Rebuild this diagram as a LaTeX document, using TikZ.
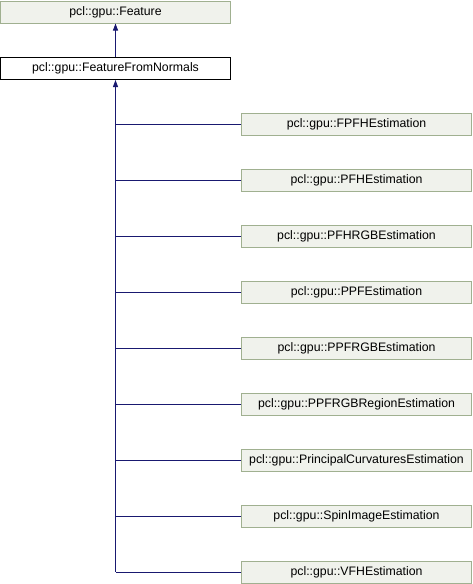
\documentclass[tikz,border=0pt]{standalone}
\usepackage{fontspec}
\setmainfont{Liberation Sans}
\usetikzlibrary{arrows.meta}
\definecolor{edgecol}{HTML}{191970}
\definecolor{boxfill}{HTML}{F0F2EC}
\definecolor{boxdraw}{HTML}{A0B090}
\tikzset{
  cls/.style={draw=boxdraw, fill=boxfill, line width=1pt, minimum width=230pt, minimum height=22pt, inner sep=0pt, font=\fontsize{12.3}{14}\selectfont, anchor=center},
  cur/.style={cls, draw=black, fill=white},
  edge/.style={draw=edgecol, line width=1pt},
  inh/.style={edge, -{Triangle[length=7pt,width=5pt]}}
}
\begin{document}
\begin{tikzpicture}[x=1pt,y=-1pt]
\useasboundingbox (0,0) rectangle (472,584);
\node[cls] (feat) at (115.5,12) {pcl::gpu::Feature};
\node[cur] (ffn) at (115.5,68.5) {pcl::gpu::FeatureFromNormals};
\node[cls] (c1) at (356.5,124) {pcl::gpu::FPFHEstimation};
\node[cls] (c2) at (356.5,180) {pcl::gpu::PFHEstimation};
\node[cls] (c3) at (356.5,236) {pcl::gpu::PFHRGBEstimation};
\node[cls] (c4) at (356.5,292) {pcl::gpu::PPFEstimation};
\node[cls] (c5) at (356.5,348) {pcl::gpu::PPFRGBEstimation};
\node[cls] (c6) at (356.5,404) {pcl::gpu::PPFRGBRegionEstimation};
\node[cls] (c7) at (356.5,460) {pcl::gpu::PrincipalCurvaturesEstimation};
\node[cls] (c8) at (356.5,516) {pcl::gpu::SpinImageEstimation};
\node[cls] (c9) at (356.5,572) {pcl::gpu::VFHEstimation};
\draw[inh] (ffn.north) -- (feat.south);
\coordinate (trunk) at (c9.west -| ffn.south);
\draw[inh] (trunk) -- (ffn.south);
\foreach \c in {c1,c2,c3,c4,c5,c6,c7,c8,c9}{
  \draw[edge] (\c.west) -- (\c.west -| ffn.south);
}
\end{tikzpicture}
\end{document}
